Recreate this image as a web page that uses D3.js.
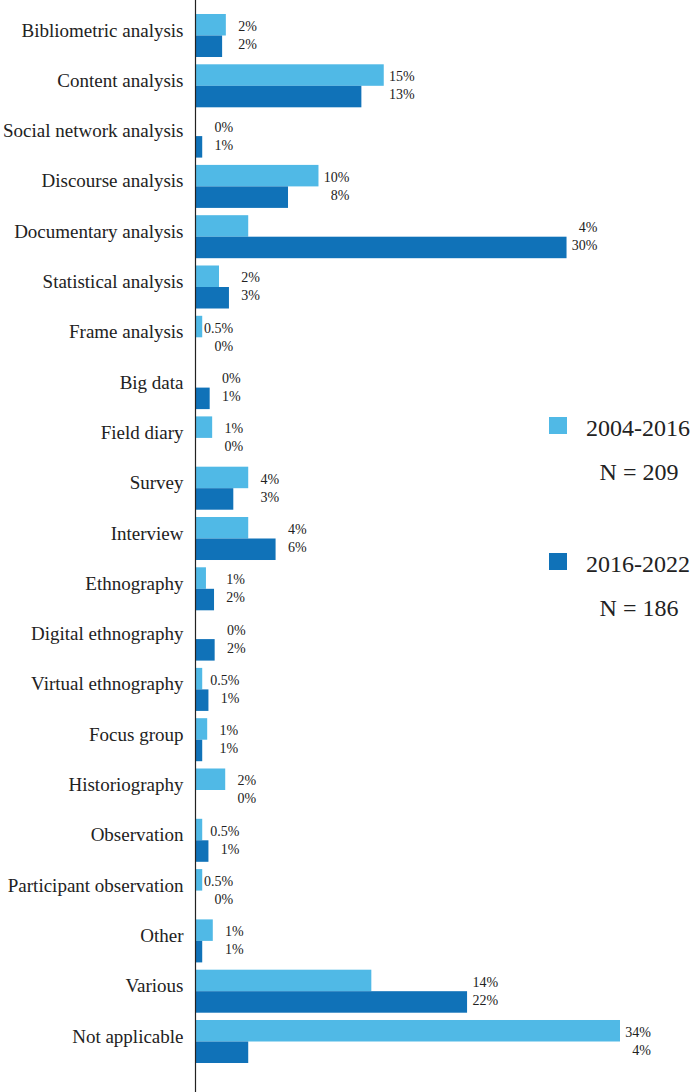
<!DOCTYPE html>
<html>
<head>
<meta charset="utf-8">
<script src="https://cdn.jsdelivr.net/npm/d3@7"></script>
<style>
  html, body { margin: 0; padding: 0; background: #fff; }
  svg { display: block; }
</style>
</head>
<body>
<svg id="chart" width="694" height="1092"></svg>
<script>
const categories = [
  "Bibliometric analysis", "Content analysis", "Social network analysis", "Discourse analysis",
  "Documentary analysis", "Statistical analysis", "Frame analysis", "Big data", "Field diary",
  "Survey", "Interview", "Ethnography", "Digital ethnography", "Virtual ethnography",
  "Focus group", "Historiography", "Observation", "Participant observation", "Other",
  "Various", "Not applicable"
];
const series = ["2004-2016", "2016-2022"];
const seriesN = ["N = 209", "N = 186"];
// values (percent)
const values2004 = [2.4, 15.1, 0, 9.85, 4.2, 1.85, 0.5, 0, 1.3, 4.2, 4.2, 0.8, 0, 0.5, 0.9, 2.35, 0.5, 0.5, 1.35, 14.1, 34.1];
const values2016 = [2.1, 13.3, 0.5, 7.4, 29.8, 2.65, 0, 1.1, 0, 3.0, 6.4, 1.45, 1.5, 1.0, 0.5, 0, 1.0, 0, 0.5, 21.8, 4.2];
// printed data labels
const labels2004 = ["2%", "15%", "0%", "10%", "4%", "2%", "0.5%", "0%", "1%", "4%", "4%", "1%", "0%", "0.5%", "1%", "2%", "0.5%", "0.5%", "1%", "14%", "34%"];
const labels2016 = ["2%", "13%", "1%", "8%", "30%", "3%", "0%", "1%", "0%", "3%", "6%", "2%", "2%", "1%", "1%", "0%", "1%", "0%", "1%", "22%", "4%"];
const colors = ["#50B9E6", "#1072B8"];

const svg = d3.select("#chart");
const font = "'Liberation Serif', 'Times New Roman', serif";

const x = d3.scaleLinear().domain([0, 34.1]).range([196, 620]);
const y = d3.scaleBand().domain(categories).range([10.35, 10.35 + 21 * 50.3]).paddingInner(0.145).paddingOuter(0.0725);
const ySub = d3.scaleBand().domain([0, 1]).range([0, y.bandwidth()]);

const data = categories.map((c, i) => ({
  cat: c,
  vals: [values2004[i], values2016[i]],
  labs: [labels2004[i], labels2016[i]]
}));

const groups = svg.append("g").selectAll("g").data(data).join("g")
  .attr("transform", d => `translate(0,${y(d.cat)})`);

groups.selectAll("rect").data(d => d.vals.map((v, k) => ({v, k}))).join("rect")
  .attr("x", x(0))
  .attr("y", d => ySub(d.k))
  .attr("width", d => x(d.v) - x(0))
  .attr("height", ySub.bandwidth())
  .attr("fill", d => colors[d.k]);

// value labels, right-aligned beyond the longer bar
groups.each(function(d) {
  const g = d3.select(this);
  const xr = x(Math.max(d.vals[0], d.vals[1])) + 31;
  const c = y.bandwidth() / 2;
  g.append("text").attr("x", xr).attr("y", c - 4.5)
    .attr("text-anchor", "end").attr("font-family", font).attr("font-size", 14).attr("fill", "#222")
    .text(d.labs[0]);
  g.append("text").attr("x", xr).attr("y", c + 13.5)
    .attr("text-anchor", "end").attr("font-family", font).attr("font-size", 14).attr("fill", "#222")
    .text(d.labs[1]);
});

// category axis
const axis = svg.append("g").attr("transform", "translate(195.5,0)")
  .call(d3.axisLeft(y).tickSize(0).tickPadding(12));
axis.select(".domain").remove();
axis.selectAll("text")
  .attr("font-family", font).attr("font-size", 19).attr("fill", "#222")
  .attr("dy", null).attr("dominant-baseline", null)
  .attr("y", 1);
svg.append("line").attr("x1", 195.5).attr("x2", 195.5).attr("y1", 0).attr("y2", 1092)
  .attr("stroke", "#222").attr("stroke-width", 1.2);

// legend
const legY = [417, 553];
series.forEach((s, k) => {
  svg.append("rect").attr("x", 549).attr("y", legY[k]).attr("width", 18).attr("height", 17).attr("fill", colors[k]);
  svg.append("text").attr("x", 586).attr("y", legY[k] + 18.5)
    .attr("font-family", font).attr("font-size", 24).attr("fill", "#222").text(s);
  svg.append("text").attr("x", 639).attr("y", legY[k] + 62.5).attr("text-anchor", "middle")
    .attr("font-family", font).attr("font-size", 24).attr("fill", "#222").text(seriesN[k]);
});
</script>
</body>
</html>
